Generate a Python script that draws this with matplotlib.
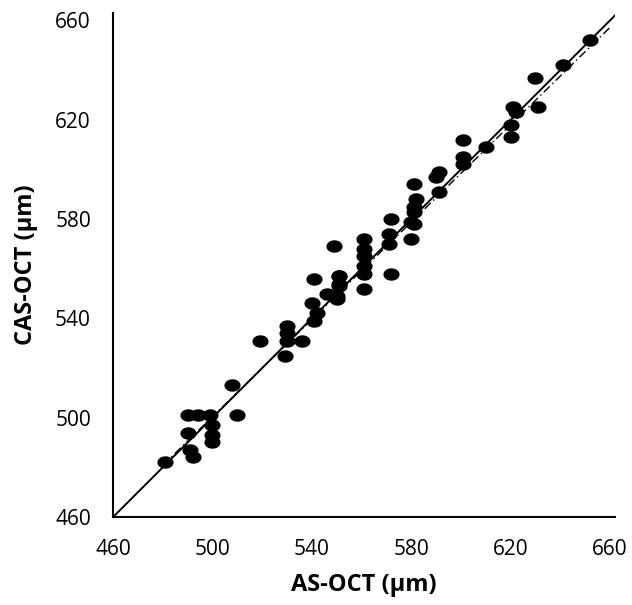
import numpy as np
import matplotlib
matplotlib.use("Agg")
import matplotlib.pyplot as plt
from matplotlib.path import Path

# AS-OCT vs CAS-OCT thickness (um)
as_oct = [481, 490, 494, 499, 510, 490, 491, 492, 500, 500, 500, 508,
          519, 530, 530, 530, 529, 536, 541, 540, 542, 541, 546, 549,
          551, 551, 550, 551, 551, 550, 561, 561, 561, 561, 561, 561,
          572, 571, 571, 572, 580, 581, 581, 582, 581, 581, 580, 591,
          590, 591, 601, 601, 601, 610, 620, 620, 621, 622, 631, 630,
          641, 652]
cas_oct = [482, 501, 501, 501, 501, 494, 487, 484, 497, 493, 490, 513,
           531, 537, 534, 531, 525, 531, 556, 546, 542, 539, 550, 569,
           557, 554, 548, 557, 553, 549, 572, 568, 565, 561, 558, 552,
           558, 574, 570, 580, 572, 578, 594, 588, 585, 583, 579, 599,
           597, 591, 605, 602, 612, 609, 613, 618, 625, 623, 625, 637,
           642, 652]

# regression (dash-dot) line, estimated
fit_x = [480, 660]
slope, intercept = 0.98, 10.4

# ellipse marker, a bit wider than tall
t = np.linspace(0, 2 * np.pi, 60)
ell = Path(np.c_[1.3 * np.cos(t), np.sin(t)], closed=True)

fig = plt.figure(figsize=(6.32, 6.05), dpi=100)
ax = fig.add_axes([0.179, 0.1455, 0.794, 0.833])

ax.plot([460, 662], [460, 662], color='black', lw=1.4, zorder=2)
fx = np.array(fit_x)
ax.plot(fx, slope * fx + intercept, color='black', lw=1.0,
        linestyle=(0, (6, 2.5, 1, 2.5)), zorder=2)
ax.scatter(as_oct, cas_oct, marker=ell, s=135, color='black', lw=0, zorder=3)

ax.set_xlim(460, 662)
ax.set_ylim(460, 663)
ax.set_xticks([460, 500, 540, 580, 620, 660])
ax.set_yticks([460, 500, 540, 580, 620, 660])

for s in ['top', 'right']:
    ax.spines[s].set_visible(False)
for s in ['left', 'bottom']:
    ax.spines[s].set_linewidth(1.5)

ax.tick_params(length=0, labelsize=15, pad=16)
for lab in ax.get_xticklabels() + ax.get_yticklabels():
    lab.set_fontfamily('Open Sans')

ax.set_xlabel('AS-OCT (μm)', fontsize=17, fontweight='bold',
              family='Open Sans', labelpad=9)
ax.set_ylabel('CAS-OCT (μm)', fontsize=17, fontweight='bold',
              family='Open Sans', labelpad=12)

fig.savefig('out.png', dpi=100)
